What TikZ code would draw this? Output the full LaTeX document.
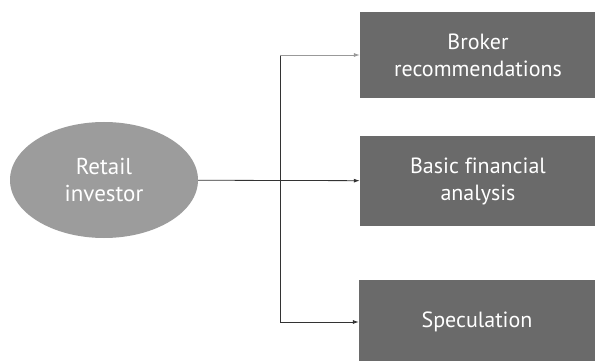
\documentclass[tikz,border=0pt]{standalone}
\usepackage{fontspec}
\setmainfont[Ligatures=NoCommon]{PT Sans}
\usetikzlibrary{positioning}
\usetikzlibrary{shapes.geometric}
\usetikzlibrary{arrows.meta}
\definecolor{boxgray}{HTML}{6A6A6A}
\definecolor{ovalgray}{HTML}{9C9C9C}
\tikzset{rootnode/.style = {ellipse, fill=ovalgray, text=white,
                            minimum width=188pt, minimum height=116pt,
                            inner sep=0pt, align=center,
                            font=\fontsize{23}{27}\selectfont}}
\tikzset{choicebox/.style = {rectangle, fill=boxgray, text=white,
                             minimum width=236pt, align=center,
                             font=\fontsize{22}{27}\selectfont}}
\tikzset{link/.style = {draw=black!80, line width=0.8pt,
                        -{Latex[length=6pt,width=4pt]}}}

\begin{document}
\begin{tikzpicture}[x=1pt,y=-1pt]
      \useasboundingbox[fill=white] (0,0) rectangle (595,361);
      \node[rootnode] (retail) at (104,180) {Retail\\investor};
      \node[choicebox, minimum height=86pt] (broker) at (478,55)
        {Broker\\recommendations};
      \node[choicebox, minimum height=90pt] (basic) at (478,181)
        {Basic financial\\analysis};
      \node[choicebox, minimum height=84pt] (spec) at (477,322) {Speculation};
      \coordinate (top) at (280,55);
      \coordinate (bot) at (280,322);
      \draw[draw=black!80, line width=0.8pt] (top) -- (bot);
      \draw[link, draw=black!40] (top) -- (broker);
      \draw[link] (retail) -- (basic);
      \draw[link] (bot) -- (spec);
\end{tikzpicture}
\end{document}
